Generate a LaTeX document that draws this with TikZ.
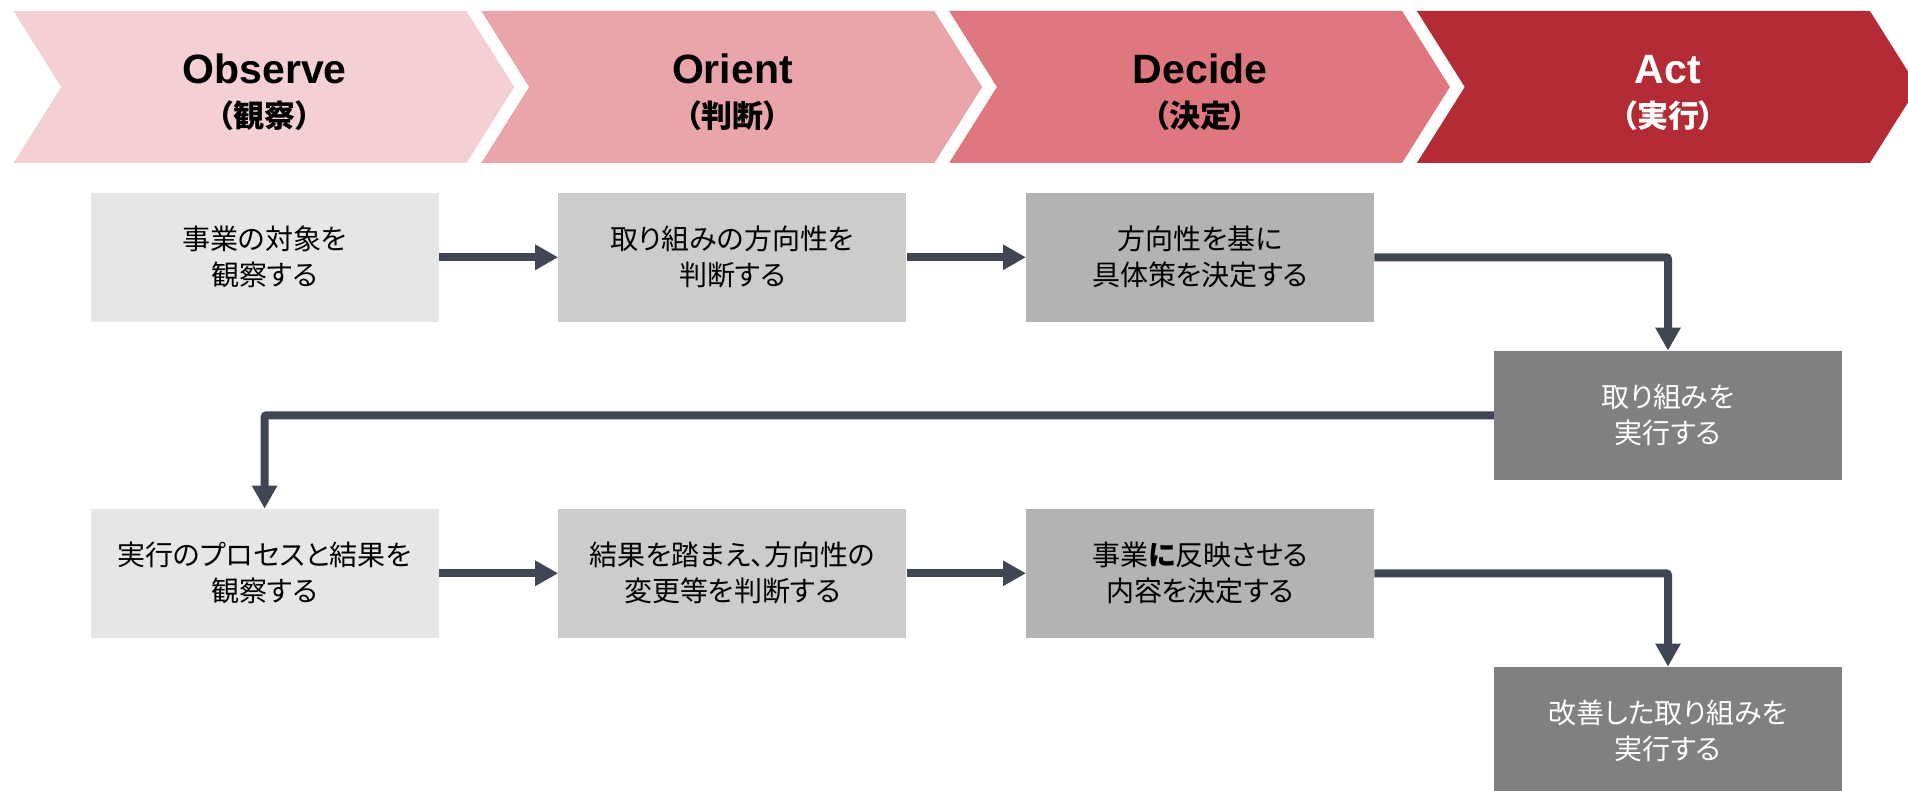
\documentclass[tikz,border=0pt]{standalone}
\usepackage{fontspec}
\setmainfont{Liberation Sans}
\newfontfamily\jp[RawFeature=+palt]{Noto Sans CJK JP}
\usetikzlibrary{arrows.meta}
\definecolor{chA}{RGB}{244,208,213}
\definecolor{chB}{RGB}{233,165,170}
\definecolor{chC}{RGB}{223,119,126}
\definecolor{chD}{RGB}{178,43,53}
\definecolor{bxA}{RGB}{230,230,230}
\definecolor{bxB}{RGB}{204,204,204}
\definecolor{bxC}{RGB}{179,179,179}
\definecolor{bxD}{RGB}{128,128,128}
\definecolor{conncol}{RGB}{64,70,83}
\begin{document}
\begin{tikzpicture}[x=1pt,y=-1pt,
  hdr/.style={anchor=base, inner sep=0pt, font=\bfseries\fontsize{41}{41}\selectfont},
  hdrj/.style={anchor=center, inner sep=0pt, font=\jp\bfseries\fontsize{31}{31}\selectfont},
  flowbox/.style={minimum width=348pt, minimum height=129pt, inner sep=0pt, align=center,
    font=\jp\fontsize{28}{36}\selectfont},
  conn/.style={draw=conncol, line width=8pt, -{Triangle[width=24pt,length=23pt]}}
]
\clip (0,0) rectangle (1908,791);
\fill[white] (0,0) rectangle (1908,791);
% chevrons
\foreach \i/\c in {0/chA,1/chB,2/chC,3/chD} {
  \pgfmathsetmacro\xo{13.5+\i*467.8}
  \fill[\c] (\xo,11) -- ++(453,0) -- ++(47.8,76) -- ++(-47.8,76) -- ++(-453,0) -- ++(47.8,-76) -- cycle;
}
% header texts
\node[hdr] (tO) at (264.6,83.5) {Observe};
\node[hdrj] (jO) at (264.6,116) {（観察）};
\node[hdr] (tR) at (732.4,83.5) {Orient};
\node[hdrj] (jR) at (732.4,116) {（判断）};
\node[hdr] (tD) at (1200.2,83.5) {Decide};
\node[hdrj] (jD) at (1200.2,116) {（決定）};
\node[hdr, text=white] (tA) at (1668,83.5) {Act};
\node[hdrj, text=white] (jA) at (1668,116) {（実行）};
% boxes
\node[flowbox, fill=bxA] (b1) at (264.6,257.3) {事業の対象を\\観察する};
\node[flowbox, fill=bxB] (b2) at (732.4,257.3) {取り組みの方向性を\\判断する};
\node[flowbox, fill=bxC] (b3) at (1200.2,257.3) {方向性を基に\\具体策を決定する};
\node[flowbox, fill=bxD, text=white] (b4) at (1668,415.3) {取り組みを\\実行する};
\node[flowbox, fill=bxA] (b5) at (264.6,573.3) {実行のプロセスと結果を\\観察する};
\node[flowbox, fill=bxB] (b6) at (732.4,573.3) {結果を踏まえ、方向性の\\変更等を判断する};
\node[flowbox, fill=bxC] (b7) at (1200.2,573.3) {事業{\bfseries に}反映させる\\内容を決定する};
\node[flowbox, fill=bxD, text=white] (b8) at (1668,731.3) {改善した取り組みを\\実行する};
% connectors
\draw[conn] (b1.east) -- (b2.west);
\draw[conn] (b2.east) -- (b3.west);
\draw[conn, rounded corners=2pt] (b3.east) -| (b4.north);
\draw[conn, rounded corners=2pt] (b4.west) -| (b5.north);
\draw[conn] (b5.east) -- (b6.west);
\draw[conn] (b6.east) -- (b7.west);
\draw[conn, rounded corners=2pt] (b7.east) -| (b8.north);
\end{tikzpicture}
\end{document}
